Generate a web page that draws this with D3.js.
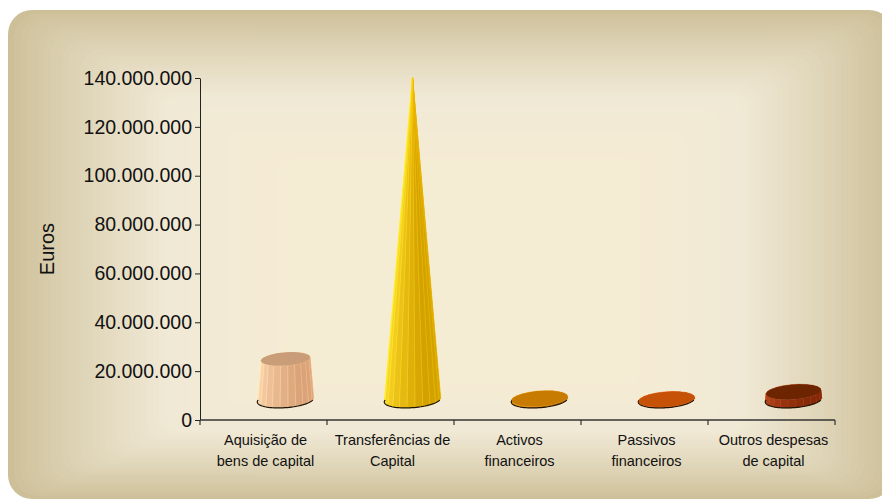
<!DOCTYPE html>
<html>
<head>
<meta charset="utf-8">
<script src="https://cdn.jsdelivr.net/npm/d3@7"></script>
<style>
  html, body { margin: 0; padding: 0; background: #ffffff; }
  svg { display: block; }
</style>
</head>
<body>
<svg id="chart" width="882" height="500"></svg>
<script>
// Despesas de capital, em euros, por rubrica
const categories = [
  "Aquisição de\nbens de capital",
  "Transferências de\nCapital",
  "Activos\nfinanceiros",
  "Passivos\nfinanceiros",
  "Outros despesas\nde capital"
];
const values = [16800000, 132000000, 600000, 250000, 3300000];
const yTicks = [0, 20000000, 40000000, 60000000, 80000000, 100000000, 120000000, 140000000];
const yTitle = "Euros";

// Cone colours: lit side, shaded side, cap
const sideLight = ["#ffd6ae", "#ffdc2e", "#f2a018", "#e2621a", "#b4441a"];
const sideDark  = ["#d9a47a", "#d2a200", "#bd6e00", "#b04000", "#852808"];
const capFill   = ["#c89d77", "#e8bc00", "#c77b00", "#c65208", "#6c2500"];

const svg = d3.select("#chart");
const W = 882, H = 500;

// ---- background panel: rounded rectangle with stepped centre-lit gradient
const bg = svg.append("g");
const stops = [
  { x0: 8,   y0: 10,  x1: 893, y1: 499, rx: 24, c: "#cdbf98" },
  { x0: 165, y0: 95,  x1: 743, y1: 432, rx: 18, c: "#f0e9d5" },
  { x0: 290, y0: 165, x1: 630, y1: 380, rx: 14, c: "#f6ecd4" }
];
const stepsPer = [26, 10];
for (let s = 0; s < stops.length - 1; s++) {
  const a = stops[s], b = stops[s + 1];
  const n = stepsPer[s];
  const col = d3.interpolateRgb(a.c, b.c);
  for (let i = 0; i < n; i++) {
    const t = i / n;
    const te = s === 0 ? Math.pow(t, 0.85) : t;
    bg.append("rect")
      .attr("x", a.x0 + (b.x0 - a.x0) * t)
      .attr("y", a.y0 + (b.y0 - a.y0) * t)
      .attr("width", (a.x1 + (b.x1 - a.x1) * t) - (a.x0 + (b.x0 - a.x0) * t))
      .attr("height", (a.y1 + (b.y1 - a.y1) * t) - (a.y0 + (b.y0 - a.y0) * t))
      .attr("rx", a.rx + (b.rx - a.rx) * t)
      .attr("fill", col(te));
  }
}

// ---- scales
const plot = { left: 200, right: 835, top: 78, bottom: 420 };
const x = d3.scaleBand().domain(categories).range([plot.left, plot.right]).padding(0);
const y = d3.scaleLinear().domain([0, 140000000]).range([plot.bottom, plot.top]);

// oblique depth offset of the cone row, and ellipse geometry
const depthDx = 22, depthDy = -20;
const R = x.bandwidth() * 0.215;
const flat = 0.29;   // vertical squash of the circular sections
const shear = 0.9;   // sideways lean of the sections with depth
const N = 22;
const vMax = d3.max(values);

function pt(cx, cy, r, th) {
  return [cx + r * Math.cos(th) + shear * flat * r * Math.sin(th),
          cy - flat * r * Math.sin(th)];
}

const cones = svg.append("g");
categories.forEach((c, i) => {
  const v = values[i];
  const cx = x(c) + x.bandwidth() / 2 + depthDx;
  const yb = y(0) + depthDy;
  const yt = y(v) + depthDy;
  const rt = R * (1 - v / vMax);
  const g = cones.append("g");
  const light = d3.interpolateRgb(sideLight[i], sideDark[i]);

  const facets = d3.range(N).map(k => {
    const a0 = (k / N) * 2 * Math.PI + 0.2;
    const a1 = ((k + 1) / N) * 2 * Math.PI + 0.2;
    const am = (a0 + a1) / 2;
    return { a0, a1, am };
  }).sort((p, q) => Math.sin(q.am) - Math.sin(p.am));

  facets.forEach(f => {
    const poly = [pt(cx, yb, R, f.a0), pt(cx, yb, R, f.a1), pt(cx, yt, rt, f.a1), pt(cx, yt, rt, f.a0)];
    const lum = Math.max(0, Math.min(1, 0.5 + 0.55 * Math.cos(f.am) - 0.15 * Math.sin(f.am)));
    g.append("path")
      .attr("d", "M" + poly.map(p => p.join(",")).join("L") + "Z")
      .attr("fill", light(lum))
      .attr("stroke", d3.color(light(lum)).brighter(0.35))
      .attr("stroke-width", 0.5);
  });

  // dark outline along the front of the base
  const front = d3.range(0, 41).map(k => pt(cx, yb, R, Math.PI + (k / 40) * Math.PI));
  g.append("path")
    .attr("d", d3.line()(front))
    .attr("fill", "none")
    .attr("stroke", "#1e1408")
    .attr("stroke-width", 1.2);

  // top cap
  if (rt > 0.5) {
    const cap = d3.range(N).map(k => pt(cx, yt, rt, (k / N) * 2 * Math.PI + 0.2));
    g.append("path")
      .attr("d", "M" + cap.map(p => p.join(",")).join("L") + "Z")
      .attr("fill", capFill[i]);
  }
});

// ---- axes
const fmt = v => d3.format(",")(v).replace(/,/g, ".");
const yAxis = svg.append("g")
  .attr("transform", `translate(${plot.left},0)`)
  .call(d3.axisLeft(y).tickValues(yTicks).tickFormat(fmt).tickSize(5).tickPadding(3).tickSizeOuter(0));
yAxis.select(".domain").attr("stroke", "#222");
yAxis.selectAll(".tick line").attr("stroke", "#222");
yAxis.selectAll(".tick text")
  .attr("font-family", "'Liberation Sans', Arial, sans-serif")
  .attr("font-size", 19.5)
  .attr("fill", "#111");

const xAxis = svg.append("g");
xAxis.append("line")
  .attr("x1", plot.left).attr("x2", plot.right)
  .attr("y1", y(0)).attr("y2", y(0))
  .attr("stroke", "#333").attr("stroke-width", 1.3);
const bounds = categories.map(c => x(c)).concat([x(categories[categories.length - 1]) + x.bandwidth()]);
xAxis.selectAll("line.tk").data(bounds).join("line")
  .attr("class", "tk")
  .attr("x1", d => d).attr("x2", d => d)
  .attr("y1", y(0)).attr("y2", y(0) + 5)
  .attr("stroke", "#333").attr("stroke-width", 1.2);

const labels = xAxis.selectAll("text.cat").data(categories).join("text")
  .attr("class", "cat")
  .attr("text-anchor", "middle")
  .attr("font-family", "'Liberation Sans', Arial, sans-serif")
  .attr("font-size", 14.5)
  .attr("fill", "#111");
labels.each(function(c) {
  const t = d3.select(this);
  c.split("\n").forEach((line, j) => {
    t.append("tspan")
      .attr("x", x(c) + x.bandwidth() / 2 + 2)
      .attr("y", 445 + j * 21)
      .text(line);
  });
});

svg.append("text")
  .attr("transform", "translate(54,249) rotate(-90)")
  .attr("text-anchor", "middle")
  .attr("font-family", "'Liberation Sans', Arial, sans-serif")
  .attr("font-size", 20)
  .attr("fill", "#111")
  .text(yTitle);
</script>
</body>
</html>
